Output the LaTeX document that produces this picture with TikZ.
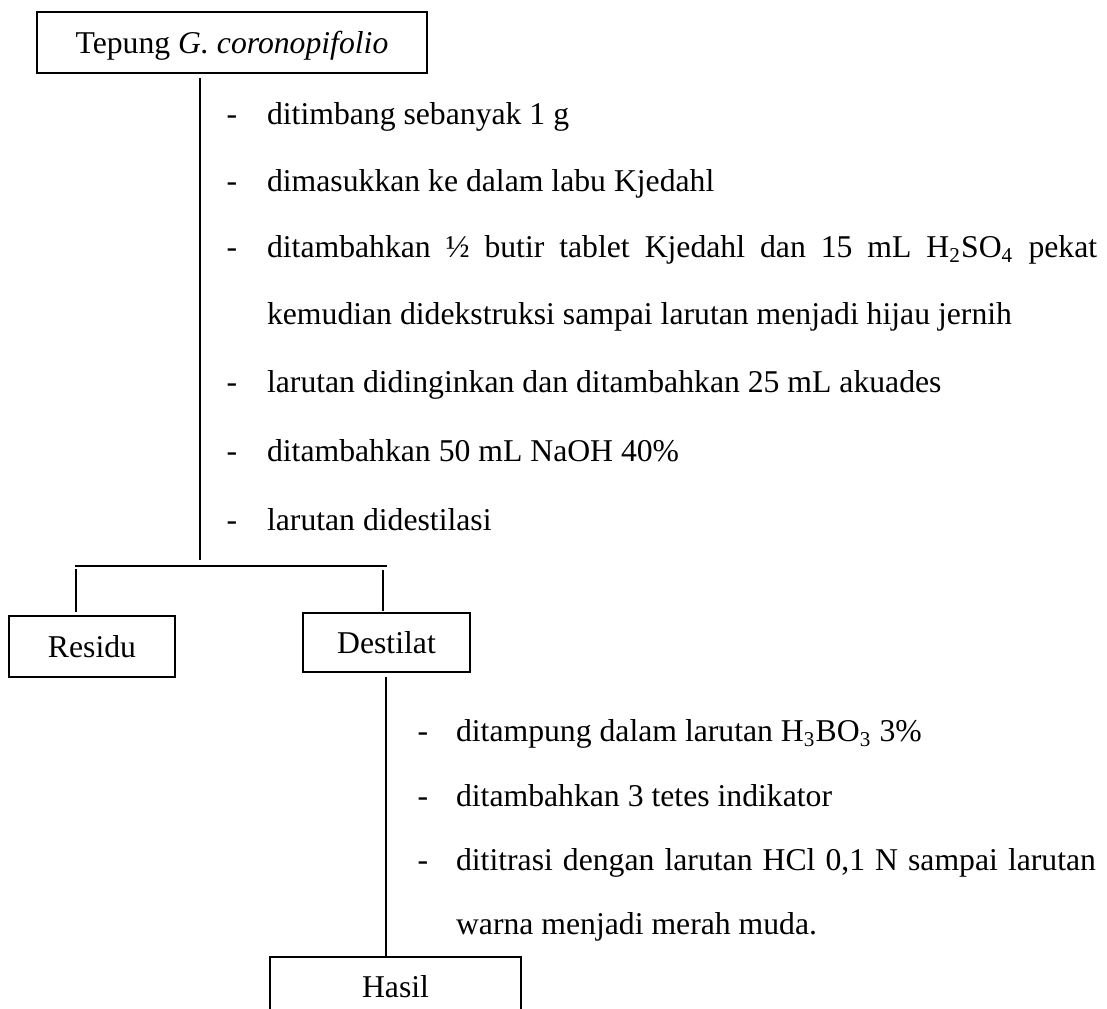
\documentclass[tikz,border=0pt]{standalone}
\usepackage{fontspec}
\setmainfont{Liberation Serif}
\tikzset{
    every node/.style={font=\fontsize{12pt}{14pt}\selectfont},
    box/.style={draw, line width=0.8pt, inner sep=0pt, text height=8pt, text depth=0pt},
    txt/.style={anchor=base west, inner sep=0pt},
    dashmark/.style={anchor=base, inner sep=0pt}
}
\begin{document}
\begin{tikzpicture}[x=0.3785pt, y=-0.3785pt, line width=0.8pt]
    \useasboundingbox (0,0) rectangle (1107,1009);

    % boxes
    \node[box, minimum width=147.6pt, minimum height=23.1pt] (tepung) at (232,42.5) {Tepung \textit{G. coronopifolio}};
    \node[box, minimum width=62.8pt, minimum height=23.1pt] (residu) at (92,646.5) {Residu};
    \node[box, minimum width=63.2pt, minimum height=22.3pt] (destilat) at (386.5,642.5) {Destilat};
    \node[box, minimum width=95pt, minimum height=22.7pt] (hasil) at (395.5,987) {Hasil};

    % steps before distillation
    \foreach \y [count=\i] in {125,192,258,393,462,531}
        \node[dashmark] (da\i) at (232,\y) {-};
    \node[txt] (s1) at (266,125) {ditimbang sebanyak 1 g};
    \node[txt] (s2) at (266,192) {dimasukkan ke dalam labu Kjedahl};
    \node[txt] (s3) at (266,258) {\makebox[314.2pt][s]{ditambahkan ½ butir tablet Kjedahl dan 15 mL H\textsubscript{2}SO\textsubscript{4} pekat}};
    \node[txt] (s4) at (266,325) {kemudian didekstruksi sampai larutan menjadi hijau jernih};
    \node[txt] (s5) at (266,393) {larutan didinginkan dan ditambahkan 25 mL akuades};
    \node[txt] (s6) at (266,462) {ditambahkan 50 mL NaOH 40\%};
    \node[txt] (s7) at (266,531) {larutan didestilasi};

    % steps after distillation
    \foreach \y [count=\i] in {742,807,871}
        \node[dashmark] (db\i) at (423,\y) {-};
    \node[txt] (t1) at (455,742) {ditampung dalam larutan H\textsubscript{3}BO\textsubscript{3} 3\%};
    \node[txt] (t2) at (455,807) {ditambahkan 3 tetes indikator};
    \node[txt] (t3) at (455,871) {\makebox[242.2pt][s]{dititrasi dengan larutan HCl 0,1 N sampai larutan}};
    \node[txt] (t4) at (455,935) {warna menjadi merah muda.};

    % lines
    \coordinate (a1) at (200,78);
    \coordinate (a2) at (200,560);
    \draw (a1) -- (a2);
    \coordinate (hl) at (75,566);
    \coordinate (hr) at (387,566);
    \draw (hl) -- (hr);
    \coordinate (r1) at (76,569);
    \coordinate (r2) at (76,612);
    \draw (r1) -- (r2);
    \coordinate (d1) at (383,570);
    \coordinate (d2) at (383,611);
    \draw (d1) -- (d2);
    \coordinate (e1) at (386,677);
    \draw (e1) -- (e1 |- hasil.north);
\end{tikzpicture}
\end{document}
